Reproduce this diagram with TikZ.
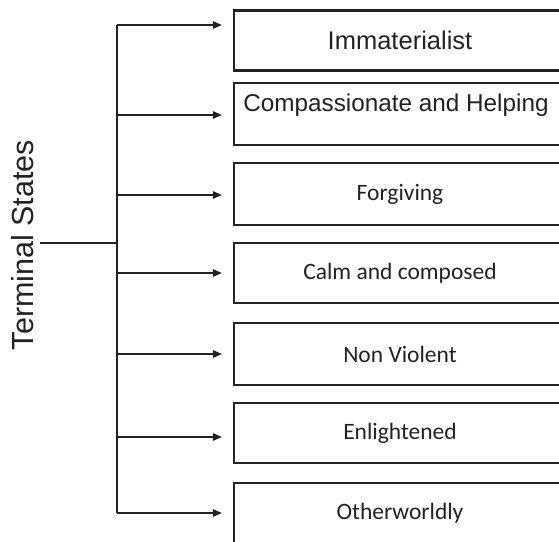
\documentclass[tikz,border=0pt]{standalone}
\usepackage{fontspec}
\setmainfont{Liberation Sans}
\newfontfamily\carl{Carlito}
\usetikzlibrary{arrows.meta}
\definecolor{ink}{HTML}{222222}
\tikzset{
  box/.style={draw=ink, line width=2.2pt, minimum width=332pt, minimum height=60pt, inner sep=0pt, text=ink},
  arial/.style={font=\fontsize{24.3}{26}\selectfont},
  calib/.style={font=\carl\fontsize{23.5}{26}\selectfont},
  conn/.style={draw=ink, line width=1.2pt},
  arr/.style={conn, -{Triangle[length=9pt,width=7.5pt]}, shorten >=11pt}
}
\begin{document}
\begin{tikzpicture}[x=1pt,y=-1pt]
\useasboundingbox (0,0) rectangle (559,541);
\clip (0,0) rectangle (559,541);
\node[box,font=\fontsize{25.5}{28}\selectfont] (b1) at (400,40.5) {Immaterialist};
\node[box,minimum height=62pt,label={[arial,text=ink,yshift=9pt,xshift=-4pt]center:Compassionate and Helping}] (b2) at (400,114) {};
\node[box,minimum height=62pt,calib] (b3) at (400,194) {Forgiving};
\node[box,calib] (b4) at (400,273) {Calm and composed};
\node[box,minimum height=62pt,calib] (b5) at (400,354) {Non Violent};
\node[box,calib] (b6) at (400,433) {Enlightened};
\node[box,calib] (b7) at (400,513) {Otherworldly};
\node[rotate=90,text=ink,font=\fontsize{30.5}{32}\selectfont] (ts) at (22.5,245) {Terminal States};
\coordinate (root) at (40,243);
\coordinate (hub) at (117,243);
\coordinate (j1) at (117,25);
\coordinate (j2) at (117,115);
\coordinate (j3) at (117,195);
\coordinate (j4) at (117,273);
\coordinate (j5) at (117,354);
\coordinate (j6) at (117,437);
\coordinate (j7) at (117,513);
\draw[conn] (root) -- (hub);
\draw[conn] (j1) -- (j7);
\draw[arr] (j1) -- (j1 -| b1.west);
\draw[arr] (j2) -- (j2 -| b2.west);
\draw[arr] (j3) -- (j3 -| b3.west);
\draw[arr] (j4) -- (j4 -| b4.west);
\draw[arr] (j5) -- (j5 -| b5.west);
\draw[arr] (j6) -- (j6 -| b6.west);
\draw[arr] (j7) -- (j7 -| b7.west);
\end{tikzpicture}
\end{document}
